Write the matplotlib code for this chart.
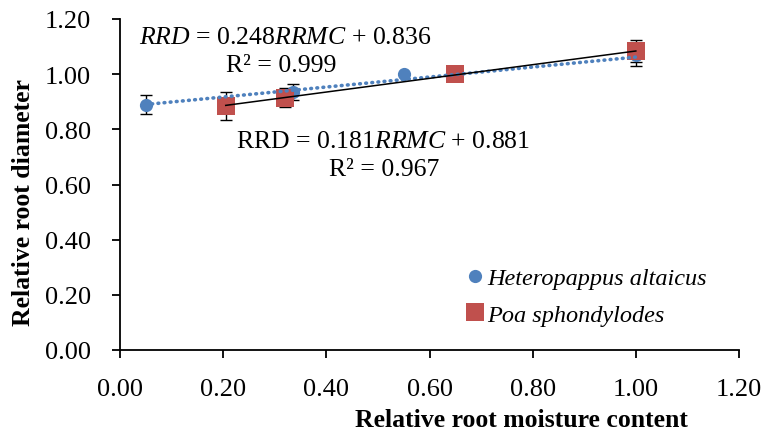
import matplotlib
matplotlib.use("Agg")
import matplotlib.pyplot as plt
import numpy as np
from matplotlib.lines import Line2D

plt.rcParams['font.family'] = ['Liberation Serif', 'DejaVu Serif']
plt.rcParams['mathtext.fontset'] = 'custom'
plt.rcParams['mathtext.rm'] = 'Liberation Serif'
plt.rcParams['mathtext.it'] = 'Liberation Serif:italic'

# Data
ha_x = [0.05, 0.335, 0.55, 1.00]
ha_y = [0.89, 0.935, 1.00, 1.07]
ha_err = [0.035, 0.03, 0.0, 0.04]
ps_x = [0.205, 0.32, 0.65, 1.00]
ps_y = [0.885, 0.915, 1.00, 1.085]
ps_err = [0.05, 0.035, 0.0, 0.04]
ha_fit = [0.181, 0.881]
ps_fit = [0.248, 0.836]
ticks = [0.0, 0.2, 0.4, 0.6, 0.8, 1.0, 1.2]

blue = '#4F81BD'
red = '#C0504D'

W, H = 763, 439
fig = plt.figure(figsize=(W/100, H/100), dpi=100)
ax = fig.add_axes([120/W, 1-351/H, 619/W, 331/H])

# error bars
ax.errorbar(ha_x, ha_y, yerr=ha_err, fmt='none', ecolor='black', elinewidth=1, capsize=4, capthick=1, zorder=2)
ax.errorbar(ps_x, ps_y, yerr=ps_err, fmt='none', ecolor='black', elinewidth=1, capsize=4, capthick=1, zorder=2)

ax.plot(ha_x, ha_y, 'o', color=blue, markersize=9.5, zorder=3, markeredgewidth=0)
ax.plot(ps_x, ps_y, 's', color=red, markersize=13.5, zorder=4, markeredgewidth=0)

# trendlines
xb = np.array([min(ha_x), max(ha_x)])
ax.plot(xb, ha_fit[0]*xb + ha_fit[1], color=blue, lw=2.6, linestyle=(0, (0.2, 1.5)),
        dash_capstyle='round', zorder=5)
xr = np.array([min(ps_x), max(ps_x)])
ax.plot(xr, ps_fit[0]*xr + ps_fit[1], color='black', lw=1.1, zorder=5)

ax.set_xlim(0, 1.2)
ax.set_ylim(0, 1.2)
ax.set_xticks(ticks)
ax.set_yticks(ticks)
ax.set_xticklabels([f"{t:.2f}" for t in ticks], fontsize=19)
ax.set_yticklabels([f"{t:.2f}" for t in ticks], fontsize=19)
ax.tick_params(direction='out', length=6, width=1.3)
ax.tick_params(axis='x', pad=14)
ax.tick_params(axis='y', pad=15)
ax.spines['top'].set_visible(False)
ax.spines['right'].set_visible(False)
ax.spines['left'].set_linewidth(1.3)
ax.spines['bottom'].set_linewidth(1.3)

fig.text(521/W, 1-427/H, 'Relative root moisture content', fontsize=18.5,
         fontweight='bold', ha='center', va='baseline')
fig.text(24/W, 1-203/H, 'Relative root diameter', fontsize=18.5,
         fontweight='bold', ha='center', va='center', rotation=90)

# equations
fig.text(285/W, 1-44/H, r'$\mathit{RRD}$ = 0.248$\mathit{RRMC}$ + 0.836', fontsize=18.5,
         ha='center', va='baseline')
fig.text(281/W, 1-72/H, 'R² = 0.999', fontsize=18.5, ha='center', va='baseline')
fig.text(383/W, 1-148/H, r'RRD = 0.181$\mathit{RRMC}$ + 0.881', fontsize=18.5,
         ha='center', va='baseline')
fig.text(384/W, 1-176/H, 'R² = 0.967', fontsize=18.5, ha='center', va='baseline')

handles = [Line2D([], [], marker='o', color=blue, linestyle='none', markersize=9.5, markeredgewidth=0),
           Line2D([], [], marker='s', color=red, linestyle='none', markersize=13.5, markeredgewidth=0)]
leg = fig.legend(handles, ['Heteropappus altaicus', 'Poa sphondylodes'],
                 loc='upper left', bbox_to_anchor=(465/W, 1-268/H), frameon=False,
                 prop={'style': 'italic', 'size': 17.5}, handlelength=0.8,
                 handletextpad=0.1, labelspacing=0.6, borderpad=0, borderaxespad=0)

fig.savefig('out.png', dpi=100)
